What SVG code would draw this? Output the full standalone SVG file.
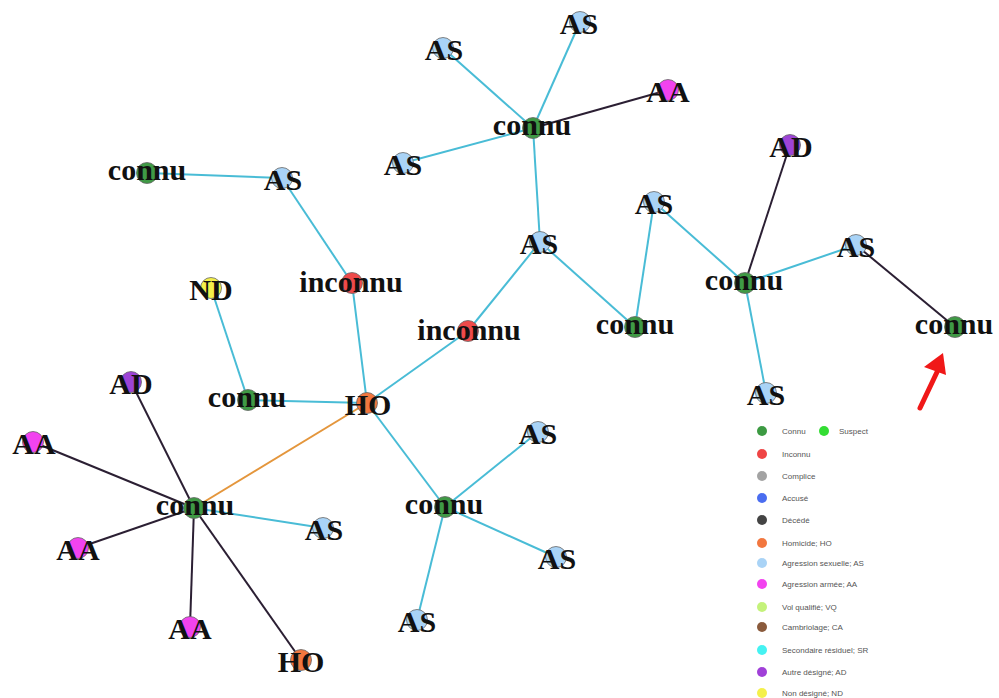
<svg xmlns="http://www.w3.org/2000/svg" width="999" height="698" viewBox="0 0 999 698">
<defs>
<style>
.e{stroke-width:2;fill:none}
.c{stroke:#49bcd6}
.d{stroke:#2b1f33}
.o{stroke:#e4963c}
.n circle{stroke:#666;stroke-width:0.8}
.n text{font-family:"Liberation Serif","Times New Roman",serif;font-weight:bold;font-size:30px;fill:#111;text-anchor:middle}
.g{fill:#3f9a45}
.r{fill:#ef4a4a}
.b{fill:#a9d3f6}
.p{fill:#f243ef}
.v{fill:#9d44d6}
.h{fill:#f2773f}
.y{fill:#f4f04a}
.lg text{font-family:"Liberation Sans",Arial,sans-serif;font-size:8px;fill:#555}
</style>
</defs>
<rect width="999" height="698" fill="#fff"/>
<g id="connectors">
<line class="e c" x1="443" y1="48" x2="533" y2="128"/>
<line class="e c" x1="580" y1="22" x2="533" y2="128"/>
<line class="e d" x1="668" y1="90" x2="533" y2="128"/>
<line class="e c" x1="403" y1="163" x2="533" y2="128"/>
<line class="e c" x1="533" y1="128" x2="540" y2="242"/>
<line class="e c" x1="147" y1="173" x2="282" y2="178"/>
<line class="e c" x1="282" y1="178" x2="352" y2="283"/>
<line class="e c" x1="352" y1="283" x2="367" y2="403"/>
<line class="e c" x1="211" y1="288" x2="248" y2="400"/>
<line class="e c" x1="248" y1="400" x2="367" y2="403"/>
<line class="e c" x1="367" y1="403" x2="468" y2="331"/>
<line class="e c" x1="468" y1="331" x2="540" y2="242"/>
<line class="e c" x1="540" y1="242" x2="635" y2="327"/>
<line class="e c" x1="635" y1="327" x2="654" y2="202"/>
<line class="e c" x1="654" y1="202" x2="745" y2="283"/>
<line class="e d" x1="745" y1="283" x2="790" y2="145"/>
<line class="e c" x1="745" y1="283" x2="856" y2="245"/>
<line class="e d" x1="856" y1="245" x2="955" y2="327"/>
<line class="e c" x1="745" y1="283" x2="766" y2="393"/>
<line class="e c" x1="367" y1="403" x2="445" y2="507"/>
<line class="e c" x1="445" y1="507" x2="538" y2="432"/>
<line class="e c" x1="445" y1="507" x2="556" y2="557"/>
<line class="e c" x1="445" y1="507" x2="417" y2="620"/>
<line class="e o" x1="367" y1="403" x2="194" y2="508"/>
<line class="e d" x1="194" y1="508" x2="131" y2="382"/>
<line class="e d" x1="194" y1="508" x2="33" y2="442"/>
<line class="e d" x1="194" y1="508" x2="78" y2="548"/>
<line class="e d" x1="194" y1="508" x2="190" y2="627"/>
<line class="e d" x1="194" y1="508" x2="301" y2="660"/>
<line class="e c" x1="194" y1="508" x2="323" y2="528"/>
</g>
<g id="n1" class="n"><circle class="b" cx="443" cy="48" r="10.5"/><text x="444" y="60">AS</text></g>
<g id="n2" class="n"><circle class="b" cx="580" cy="22" r="10.5"/><text x="579" y="34">AS</text></g>
<g id="n3" class="n"><circle class="p" cx="668" cy="90" r="10.5"/><text x="668" y="102">AA</text></g>
<g id="n4" class="n"><circle class="g" cx="533" cy="128" r="10.5"/><text x="532" y="135">connu</text></g>
<g id="n5" class="n"><circle class="b" cx="403" cy="163" r="10.5"/><text x="403" y="175">AS</text></g>
<g id="n6" class="n"><circle class="g" cx="147" cy="173" r="10.5"/><text x="147" y="180">connu</text></g>
<g id="n7" class="n"><circle class="b" cx="282" cy="178" r="10.5"/><text x="283" y="190">AS</text></g>
<g id="n8" class="n"><circle class="b" cx="540" cy="242" r="10.5"/><text x="539" y="254">AS</text></g>
<g id="n9" class="n"><circle class="b" cx="654" cy="202" r="10.5"/><text x="654" y="214">AS</text></g>
<g id="n10" class="n"><circle class="v" cx="790" cy="145" r="10.5"/><text x="791" y="157">AD</text></g>
<g id="n11" class="n"><circle class="b" cx="856" cy="245" r="10.5"/><text x="856" y="257">AS</text></g>
<g id="n12" class="n"><circle class="g" cx="745" cy="283" r="10.5"/><text x="744" y="290">connu</text></g>
<g id="n13" class="n"><circle class="g" cx="955" cy="327" r="10.5"/><text x="954" y="334">connu</text></g>
<g id="n14" class="n"><circle class="g" cx="635" cy="327" r="10.5"/><text x="635" y="334">connu</text></g>
<g id="n15" class="n"><circle class="r" cx="352" cy="283" r="10.5"/><text x="351" y="292">inconnu</text></g>
<g id="n16" class="n"><circle class="y" cx="211" cy="288" r="10.5"/><text x="211" y="300">ND</text></g>
<g id="n17" class="n"><circle class="r" cx="468" cy="331" r="10.5"/><text x="469" y="340">inconnu</text></g>
<g id="n18" class="n"><circle class="g" cx="248" cy="400" r="10.5"/><text x="247" y="407">connu</text></g>
<g id="n19" class="n"><circle class="h" cx="367" cy="403" r="10.5"/><text x="368" y="415">HO</text></g>
<g id="n20" class="n"><circle class="v" cx="131" cy="382" r="10.5"/><text x="131" y="394">AD</text></g>
<g id="n21" class="n"><circle class="b" cx="766" cy="393" r="10.5"/><text x="766" y="405">AS</text></g>
<g id="n22" class="n"><circle class="p" cx="33" cy="442" r="10.5"/><text x="34" y="454">AA</text></g>
<g id="n23" class="n"><circle class="g" cx="194" cy="508" r="10.5"/><text x="195" y="515">connu</text></g>
<g id="n24" class="n"><circle class="b" cx="323" cy="528" r="10.5"/><text x="324" y="540">AS</text></g>
<g id="n25" class="n"><circle class="b" cx="538" cy="432" r="10.5"/><text x="538" y="444">AS</text></g>
<g id="n26" class="n"><circle class="g" cx="445" cy="507" r="10.5"/><text x="444" y="514">connu</text></g>
<g id="n27" class="n"><circle class="b" cx="556" cy="557" r="10.5"/><text x="557" y="569">AS</text></g>
<g id="n28" class="n"><circle class="p" cx="78" cy="548" r="10.5"/><text x="78" y="560">AA</text></g>
<g id="n29" class="n"><circle class="b" cx="417" cy="620" r="10.5"/><text x="417" y="632">AS</text></g>
<g id="n30" class="n"><circle class="p" cx="190" cy="627" r="10.5"/><text x="190" y="639">AA</text></g>
<g id="n31" class="n"><circle class="h" cx="301" cy="660" r="10.5"/><text x="301" y="672">HO</text></g>
<g id="arrow">
<line x1="920" y1="408" x2="938" y2="370" stroke="#f01818" stroke-width="5" stroke-linecap="round"/>
<polygon points="943,353 924,367 946,375" fill="#f01818"/>
</g>
<g id="legend" class="lg">
<circle cx="762" cy="431" r="5" fill="#3c9a42"/><text x="782" y="434">Connu</text>
<circle cx="824" cy="431" r="5" fill="#33dd33"/><text x="839" y="434">Suspect</text>
<circle cx="762" cy="454" r="5" fill="#ef4545"/><text x="782" y="457">Inconnu</text>
<circle cx="762" cy="476" r="5" fill="#a3a3a3"/><text x="782" y="479">Complice</text>
<circle cx="762" cy="498" r="5" fill="#4a6df0"/><text x="782" y="501">Accusé</text>
<circle cx="762" cy="520" r="5" fill="#444444"/><text x="782" y="523">Décédé</text>
<circle cx="762" cy="543" r="5" fill="#f2773f"/><text x="782" y="546">Homicide; HO</text>
<circle cx="762" cy="563" r="5" fill="#a9d3f6"/><text x="782" y="566">Agression sexuelle; AS</text>
<circle cx="762" cy="584" r="5" fill="#f243ef"/><text x="782" y="587">Agression armée; AA</text>
<circle cx="762" cy="607" r="5" fill="#c4f27a"/><text x="782" y="610">Vol qualifié; VQ</text>
<circle cx="762" cy="627" r="5" fill="#8a5a3c"/><text x="782" y="630">Cambriolage; CA</text>
<circle cx="762" cy="650" r="5" fill="#45f2f2"/><text x="782" y="653">Secondaire résiduel; SR</text>
<circle cx="762" cy="672" r="5" fill="#a040d8"/><text x="782" y="675">Autre désigné; AD</text>
<circle cx="762" cy="693" r="5" fill="#f4f04a"/><text x="782" y="696">Non désigné; ND</text>
</g>
</svg>
